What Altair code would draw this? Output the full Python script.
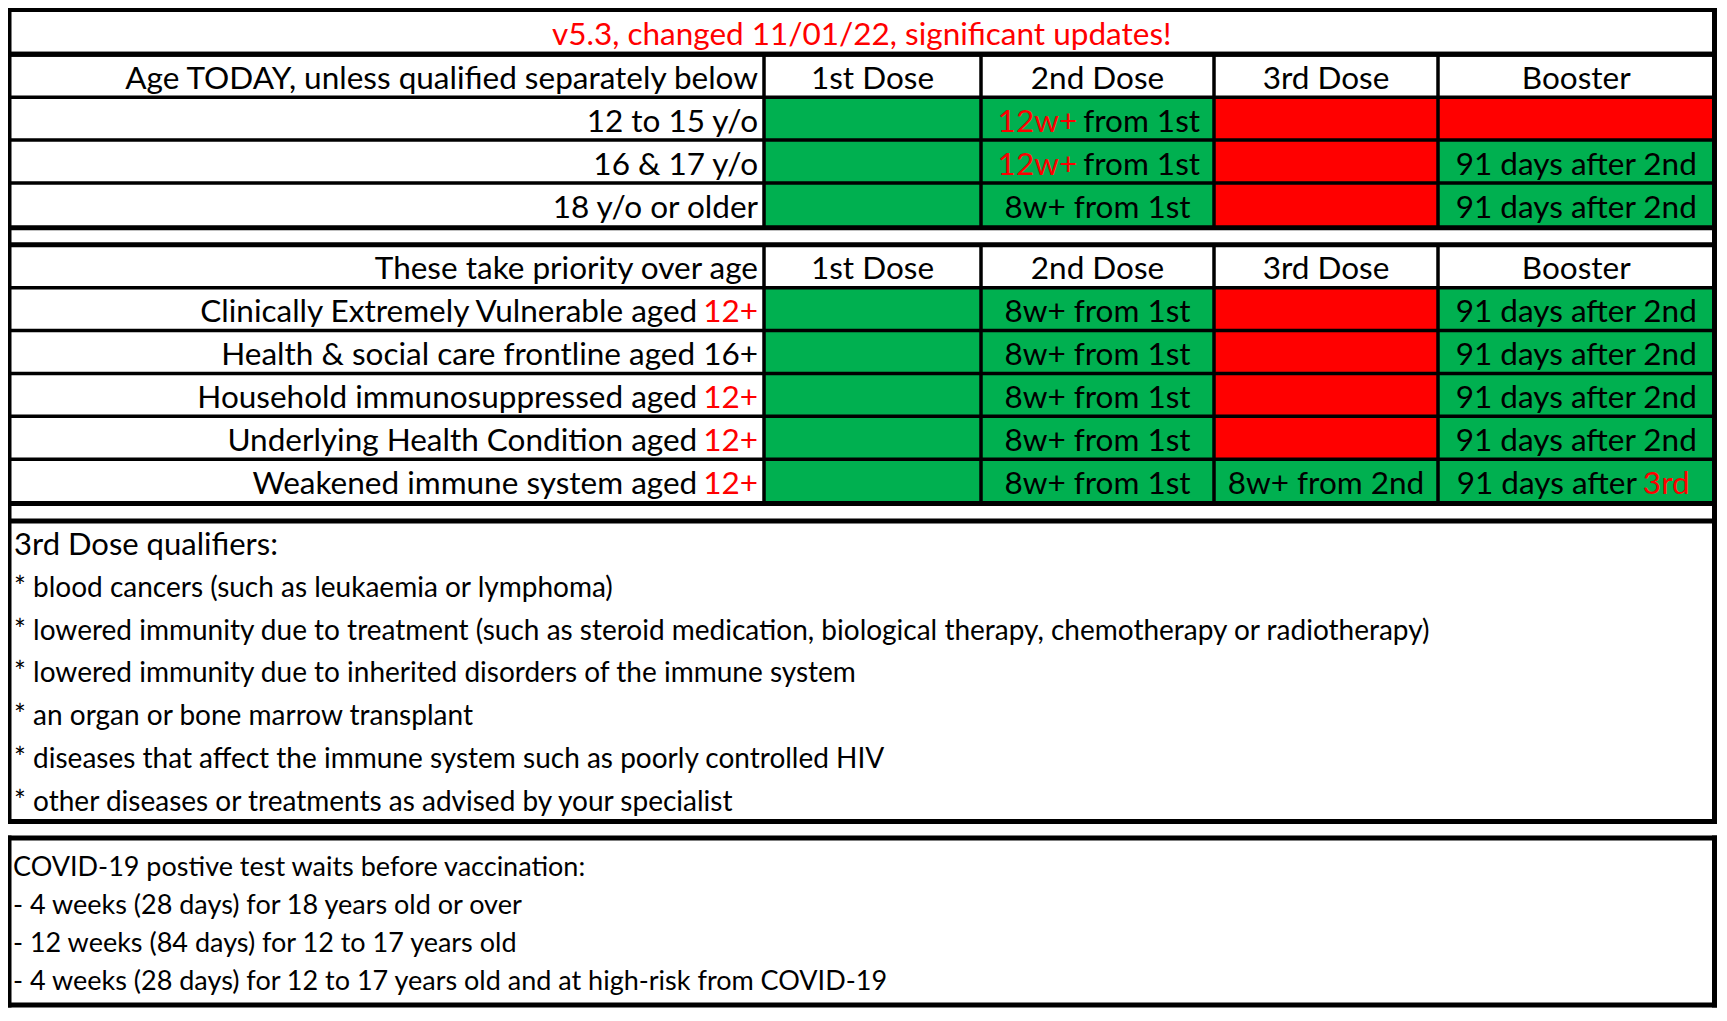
import re
import altair as alt
import pandas as pd

# ---------------- data (text content of the sheet) ----------------
title_text = "v5.3, changed 11/01/22, significant updates!"
dose_headers = ["1st Dose", "2nd Dose", "3rd Dose", "Booster"]

age_header = "Age TODAY, unless qualified separately below"
age_groups = ["12 to 15 y/o", "16 & 17 y/o", "18 y/o or older"]
age_fill = [
    ["green", "green", "red", "red"],
    ["green", "green", "red", "green"],
    ["green", "green", "red", "green"],
]
age_cells = [
    ["", "[12w+] from 1st", "", ""],
    ["", "[12w+] from 1st", "", "91 days after 2nd"],
    ["", "8w+ from 1st", "", "91 days after 2nd"],
]

priority_header = "These take priority over age"
priority_groups = [
    "Clinically Extremely Vulnerable aged [12+]",
    "Health & social care frontline aged 16+",
    "Household immunosuppressed aged [12+]",
    "Underlying Health Condition aged [12+]",
    "Weakened immune system aged [12+]",
]
priority_fill = [
    ["green", "green", "red", "green"],
    ["green", "green", "red", "green"],
    ["green", "green", "red", "green"],
    ["green", "green", "red", "green"],
    ["green", "green", "green", "green"],
]
priority_cells = [
    ["", "8w+ from 1st", "", "91 days after 2nd"],
    ["", "8w+ from 1st", "", "91 days after 2nd"],
    ["", "8w+ from 1st", "", "91 days after 2nd"],
    ["", "8w+ from 1st", "", "91 days after 2nd"],
    ["", "8w+ from 1st", "8w+ from 2nd", "91 days after [3rd]"],
]

qualifiers_title = "3rd Dose qualifiers:"
qualifiers = [
    "* blood cancers (such as leukaemia or lymphoma)",
    "* lowered immunity due to treatment (such as steroid medication, biological therapy, chemotherapy or radiotherapy)",
    "* lowered immunity due to inherited disorders of the immune system",
    "* an organ or bone marrow transplant",
    "* diseases that affect the immune system such as poorly controlled HIV",
    "* other diseases or treatments as advised by your specialist",
]

covid_title = "COVID-19 postive test waits before vaccination:"
covid_waits = [
    "- 4 weeks (28 days) for 18 years old or over",
    "- 12 weeks (84 days) for 12 to 17 years old",
    "- 4 weeks (28 days) for 12 to 17 years old and at high-risk from COVID-19",
]

# ---------------- layout / style ----------------
FONT = "Lato"
FS_TABLE = 31.5
FS_QUAL_TITLE = 31
FS_QUAL = 28
FS_COVID = 27
GREEN = "#00B050"
RED = "#FF0000"
FILLS = {"green": GREEN, "red": RED, "white": "#FFFFFF"}
THICK, THIN = 5, 3.5
TEXT_DY = 4

L, R = 9, 1714.5
COLS = [L, 764, 981, 1214, 1438, R]
T1_TITLE = (9.5, 54.5)
T1_ROWS = [54.5, 97.5, 140.5, 183.5, 228.5]
T2_ROWS = [245.5, 288.5, 331.5, 374.5, 417.5, 460.5, 505]
QUAL_BOX = (522.5, 824)
QUAL_Y = [544, 587, 629.5, 672, 715, 758, 801]
COVID_BOX = (840.5, 1008)
COVID_Y = [867, 905, 943, 981]
PAD = 6
TEXT_X = 14

CW = {" ": 0.19, "+": 0.58, "/": 0.36, "&": 0.67, ",": 0.2, ".": 0.2, "(": 0.3,
      ")": 0.3, "-": 0.33, ":": 0.23, "*": 0.4, "!": 0.27,
      "i": 0.23, "j": 0.23, "l": 0.23, "f": 0.32, "t": 0.35, "r": 0.37, "s": 0.42,
      "c": 0.46, "a": 0.48, "e": 0.53, "y": 0.5, "v": 0.5, "k": 0.49, "z": 0.45,
      "x": 0.49, "g": 0.5, "m": 0.84, "w": 0.77,
      "I": 0.27, "W": 0.95, "M": 0.83, "C": 0.66, "E": 0.55, "V": 0.67, "H": 0.72,
      "U": 0.7, "T": 0.55, "O": 0.77, "D": 0.73, "Y": 0.6, "A": 0.68, "B": 0.62}


def est_width(s, fs):
    w = 0.0
    for ch in s:
        if ch in CW:
            w += CW[ch]
        elif ch.isdigit():
            w += 0.58
        elif ch.isupper():
            w += 0.65
        else:
            w += 0.54
    return w * fs


def segments(s):
    out = []
    for part in re.split(r"(\[[^\]]*\])", s):
        if not part.strip():
            continue
        if part.startswith("["):
            out.append((part[1:-1].strip(), RED))
        else:
            out.append((part.strip(), "#000000"))
    return out


texts = []


def place(s, align, ax, y, fs, color="#000000"):
    segs = segments(s)
    if not segs:
        return
    if len(segs) == 1:
        texts.append(dict(x=ax, y=y, t=segs[0][0], c=segs[0][1] if segs[0][1] == RED else color,
                          fs=fs, align=align))
        return
    ws = [est_width(t, fs) for t, _ in segs]
    sp = est_width(" ", fs)
    total = sum(ws) + sp * (len(segs) - 1)
    start = {"center": ax - total / 2, "right": ax - total, "left": ax}[align]
    split = start + ws[0]
    texts.append(dict(x=split, y=y, t=segs[0][0], c=segs[0][1], fs=fs, align="right"))
    pos = split + sp
    for (t, c), w in zip(segs[1:], ws[1:]):
        texts.append(dict(x=pos, y=y, t=t, c=c, fs=fs, align="left"))
        pos += w + sp


rects = []
rules = []


def hline(y, x0, x1, w):
    rules.append(dict(x=x0, x2=x1, y=y, y2=y, sw=w))


def vline(x, y0, y1, w):
    rules.append(dict(x=x, x2=x, y=y0, y2=y1, sw=w))


# title row
place("[" + title_text + "]", "center", (L + R) / 2, sum(T1_TITLE) / 2, FS_TABLE)


def table(top_rows, header, groups, fills, cells):
    hy = (top_rows[0] + top_rows[1]) / 2
    place(header, "right", COLS[1] - PAD, hy, FS_TABLE)
    for j, h in enumerate(dose_headers):
        place(h, "center", (COLS[j + 1] + COLS[j + 2]) / 2, hy, FS_TABLE)
    for i, g in enumerate(groups):
        y0, y1 = top_rows[i + 1], top_rows[i + 2]
        yc = (y0 + y1) / 2
        place(g, "right", COLS[1] - PAD, yc, FS_TABLE)
        for j in range(4):
            rects.append(dict(x=COLS[j + 1], x2=COLS[j + 2], y=y0, y2=y1, fill=FILLS[fills[i][j]]))
            place(cells[i][j], "center", (COLS[j + 1] + COLS[j + 2]) / 2, yc, FS_TABLE)
    for k, y in enumerate(top_rows):
        w = THICK if k in (0, len(top_rows) - 1) else THIN
        hline(y, L, R, w)
    for x in COLS[1:-1]:
        vline(x, top_rows[0], top_rows[-1], THIN)


table(T1_ROWS, age_header, age_groups, age_fill, age_cells)
table(T2_ROWS, priority_header, priority_groups, priority_fill, priority_cells)

# outer borders
hline(T1_TITLE[0], L, R, THICK)
hline(T1_TITLE[1], L, R, THICK)
hline(QUAL_BOX[0], L, R, THICK)
hline(QUAL_BOX[1], L, R, THICK)
vline(L, T1_TITLE[0], QUAL_BOX[1], THICK)
vline(R, T1_TITLE[0], QUAL_BOX[1], THICK)
hline(COVID_BOX[0], L, R, THICK)
hline(COVID_BOX[1], L, R, THICK)
vline(L, COVID_BOX[0], COVID_BOX[1], THICK)
vline(R, COVID_BOX[0], COVID_BOX[1], THICK)

# qualifier notes
place(qualifiers_title, "left", TEXT_X, QUAL_Y[0], FS_QUAL_TITLE)
for s, y in zip(qualifiers, QUAL_Y[1:]):
    place(s, "left", TEXT_X, y, FS_QUAL)

place(covid_title, "left", TEXT_X - 1, COVID_Y[0], FS_COVID)
for s, y in zip(covid_waits, COVID_Y[1:]):
    place(s, "left", TEXT_X - 1, y, FS_COVID)

# ---------------- chart ----------------
WIDTH, HEIGHT = 1711, 1000
xs = alt.Scale(domain=[8, 1719], nice=False, zero=False)
ys = alt.Scale(domain=[8, 1011], nice=False, zero=False, reverse=True)

rect_df = pd.DataFrame(rects)
rule_df = pd.DataFrame(rules)
text_df = pd.DataFrame(texts)

cells_layer = alt.Chart(rect_df).mark_rect(strokeWidth=0).encode(
    x=alt.X("x:Q", scale=xs, axis=None),
    x2="x2:Q",
    y=alt.Y("y:Q", scale=ys, axis=None),
    y2="y2:Q",
    color=alt.Color("fill:N", scale=None),
)

rules_layer = alt.Chart(rule_df).mark_rule(color="black", strokeCap="square").encode(
    x=alt.X("x:Q", scale=xs, axis=None),
    x2="x2:Q",
    y=alt.Y("y:Q", scale=ys, axis=None),
    y2="y2:Q",
    size=alt.Size("sw:Q", scale=None),
)

text_layers = []
for al in ["left", "center", "right"]:
    sub = text_df[text_df["align"] == al]
    if len(sub) == 0:
        continue
    text_layers.append(
        alt.Chart(sub).mark_text(align=al, baseline="middle", font=FONT, dy=TEXT_DY).encode(
            x=alt.X("x:Q", scale=xs, axis=None),
            y=alt.Y("y:Q", scale=ys, axis=None),
            text="t:N",
            color=alt.Color("c:N", scale=None),
            size=alt.Size("fs:Q", scale=None),
        )
    )

chart = alt.layer(cells_layer, rules_layer, *text_layers).properties(
    width=WIDTH, height=HEIGHT, padding=0, background="white",
    autosize=alt.AutoSizeParams(type="none"),
).configure_view(stroke=None)

chart.save("out.html", embed_options={"renderer": "svg", "actions": False})
